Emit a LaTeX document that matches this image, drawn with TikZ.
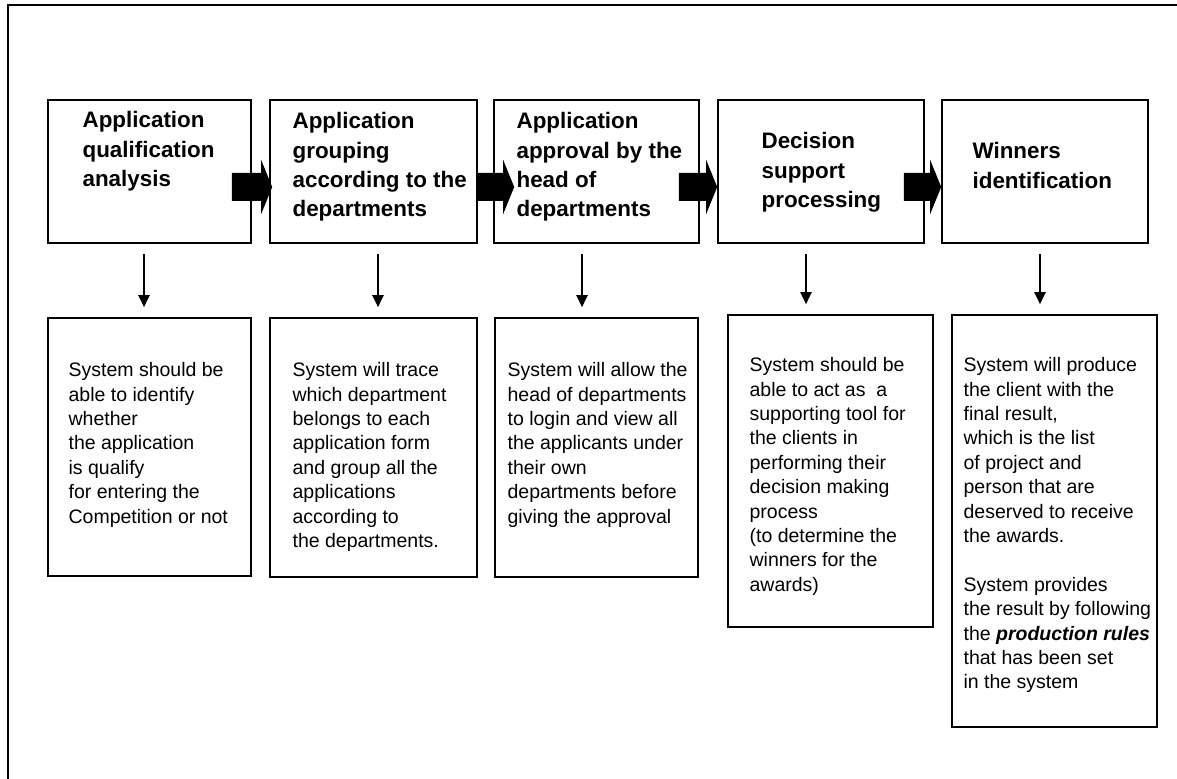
\documentclass[tikz,border=0pt]{standalone}
\usepackage{fontspec}
\setmainfont{Liberation Sans}
\usetikzlibrary{arrows.meta,calc,fit}

% fat block arrow from a start coordinate to a tip coordinate (same height)
\newcommand\flowarrow[2]{%
  \fill ($(#1)+(0,-14)$) -- ($(#2)+(-11,-14)$) -- ($(#2)+(-11,-27)$) -- (#2)
    -- ($(#2)+(-11,27)$) -- ($(#2)+(-11,14)$) -- ($(#1)+(0,14)$) -- cycle;}

\begin{document}
\begin{tikzpicture}[x=0.5pt,y=-0.5pt,
  box/.style={draw, line width=0.8pt, inner sep=0pt},
  title/.style={anchor=north west, inner sep=0pt, align=left,
    font=\fontsize{11.2}{14.6}\selectfont\bfseries},
  body/.style={anchor=north west, inner sep=0pt, align=left,
    font=\fontsize{9.75}{12.2}\selectfont},
  down/.style={line width=1pt, -{Triangle[width=5.5pt,length=6pt]},
    shorten <=5pt, shorten >=5pt},
  frame/.style={line width=0.8pt}]
\useasboundingbox (0,0) rectangle (1177,779);

% page frame
\draw[frame] (8,779) -- (8,5) -- (1177,5);

% process stages
\node[box, fit={(48,100) (251,243)}] (t1) {};
\node[box, fit={(270,100) (477,243)}] (t2) {};
\node[box, fit={(494,100) (699,243)}] (t3) {};
\node[box, fit={(718,100) (924,243)}] (t4) {};
\node[box, fit={(942,100) (1148,243)}] (t5) {};

\node[title] (t1x) at ($(t1.north west)+(35,12)$) {Application\\qualification\\analysis};
\node[title] (t2x) at ($(t2.north west)+(23,13)$) {Application\\grouping\\according to the\\departments};
\node[title] (t3x) at ($(t3.north west)+(23,13)$) {Application\\approval by the\\head of\\departments};
\node[title] (t4x) at ($(t4.north west)+(44,33)$) {Decision\\support\\processing};
\node[title] (t5x) at ($(t5.north west)+(31,43)$) {Winners\\identification};

% system descriptions
\node[box, fit={(48,318) (251,576)}] (b1) {};
\node[box, fit={(270,318) (477,577)}] (b2) {};
\node[box, fit={(495,318) (698,577)}] (b3) {};
\node[box, fit={(728,315) (933,627)}] (b4) {};
\node[box, fit={(952,315) (1157,727)}] (b5) {};

\node[body] (b1x) at ($(b1.north west)+(21,45)$) {System should be\\able to identify\\whether\\the application\\is qualify\\for entering the\\Competition or not};
\node[body] (b2x) at ($(b2.north west)+(23,45)$) {System will trace\\which department\\belongs to each\\application form\\and group all the\\applications\\according to\\the departments.};
\node[body] (b3x) at ($(b3.north west)+(13,45)$) {System will allow the\\head of departments\\to login and view all\\the applicants under\\their own\\departments before\\giving the approval};
\node[body] (b4x) at ($(b4.north west)+(22,43)$) {System should be\\able to act as\ \ a\\supporting tool for\\the clients in\\performing their\\decision making\\process\\(to determine the\\winners for the\\awards)};
\node[body] (b5x) at ($(b5.north west)+(12,43)$) {System will produce\\the client with the\\final result,\\which is the list\\of project and\\person that are\\deserved to receive\\the awards.\\[12.2pt]System provides\\the result by following\\the \textbf{\textit{production rules}}\\that has been set\\in the system};

% flow between stages
\coordinate (a1s) at ($(t1.east)+(-20,15.5)$);
\coordinate (a1e) at ($(t2.west)+(3,15.5)$);
\coordinate (a2s) at ($(t2.east)+(0,15.5)$);
\coordinate (a2e) at ($(t3.west)+(21,15.5)$);
\coordinate (a3s) at ($(t3.east)+(-21,15.5)$);
\coordinate (a3e) at ($(t4.west)+(0,15.5)$);
\coordinate (a4s) at ($(t4.east)+(-21,15.5)$);
\coordinate (a4e) at ($(t5.west)+(0,15.5)$);
\flowarrow{a1s}{a1e}
\flowarrow{a2s}{a2e}
\flowarrow{a3s}{a3e}
\flowarrow{a4s}{a4e}

% stage to description
\draw[down] ($(t1.south)+(-5.5,0)$) coordinate (d1) -- (d1 |- b1.north);
\draw[down] ($(t2.south)+(4.5,0)$) coordinate (d2) -- (d2 |- b2.north);
\draw[down] ($(t3.south)+(-14.5,0)$) coordinate (d3) -- (d3 |- b3.north);
\draw[down] ($(t4.south)+(-15,0)$) coordinate (d4) -- (d4 |- b4.north);
\draw[down] ($(t5.south)+(-5,0)$) coordinate (d5) -- (d5 |- b5.north);
\end{tikzpicture}
\end{document}
